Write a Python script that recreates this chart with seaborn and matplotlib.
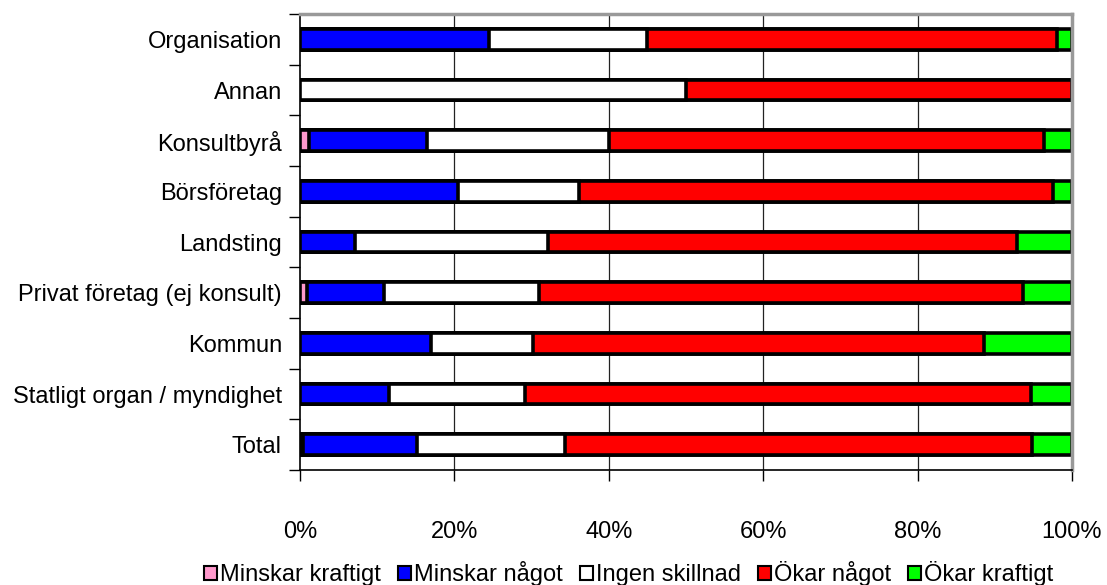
import numpy as np
import pandas as pd
import matplotlib
matplotlib.use("Agg")
import matplotlib.pyplot as plt
import seaborn as sns
from matplotlib.patches import Patch
from matplotlib.ticker import MultipleLocator, FixedLocator, PercentFormatter

categories = ["Organisation", "Annan", "Konsultbyrå", "Börsföretag", "Landsting",
              "Privat företag (ej konsult)", "Kommun",
              "Statligt organ / myndighet", "Total"]

series_names = ["Minskar kraftigt", "Minskar något", "Ingen skillnad",
                "Ökar något", "Ökar kraftigt"]

minskar_kraftigt = [0.0, 0.0, 1.2, 0.0, 0.0, 0.9, 0.0, 0.0, 0.4]
minskar_nagot = [24.5, 0.0, 15.3, 20.5, 7.1, 10.0, 17.0, 11.5, 14.7]
ingen_skillnad = [20.4, 50.0, 23.5, 15.6, 25.0, 20.0, 13.2, 17.7, 19.2]
okar_nagot = [53.1, 50.0, 56.4, 61.4, 60.8, 62.7, 58.4, 65.5, 60.5]
okar_kraftigt = [2.0, 0.0, 3.6, 2.5, 7.1, 6.4, 11.4, 5.3, 5.2]

colors = ["#FF99CC", "#0000FF", "#FFFFFF", "#FF0000", "#00FF00"]

sns.set_theme(style="white")
plt.rcParams["font.family"] = ["Liberation Sans", "DejaVu Sans"]
plt.rcParams["text.color"] = "black"
plt.rcParams["xtick.color"] = "black"
plt.rcParams["ytick.color"] = "black"

df = pd.DataFrame({
    "kategori": categories,
    series_names[0]: minskar_kraftigt,
    series_names[1]: minskar_nagot,
    series_names[2]: ingen_skillnad,
    series_names[3]: okar_nagot,
    series_names[4]: okar_kraftigt,
})
cum = df[series_names].cumsum(axis=1)

fig = plt.figure(figsize=(11.07, 5.85), dpi=100)
ax = fig.add_axes([300 / 1107, 1 - 470 / 585, 772 / 1107, 456 / 585])

# vertical gridlines behind bars
for v in [20, 40, 60, 80]:
    ax.axvline(v, color="#222222", lw=0.9, zorder=0)

# stacked segments: draw cumulative totals from the outermost inward
for name, col in reversed(list(zip(series_names, colors))):
    sub = pd.DataFrame({"kategori": categories, "varde": cum[name].values})
    mask = df[name].values > 0
    sns.barplot(data=sub[mask | (name == series_names[-1])], x="varde", y="kategori",
                order=categories, orient="h", color=col, saturation=1,
                edgecolor="black", linewidth=2.6, width=0.41, ax=ax, zorder=2)

ax.set_xlim(0, 100)
ax.set_ylim(len(categories) - 0.5, -0.5)
ax.set_xlabel("")
ax.set_ylabel("")

ax.xaxis.set_major_locator(MultipleLocator(20))
ax.xaxis.set_major_formatter(PercentFormatter(decimals=0))
ax.tick_params(axis="x", which="major", direction="out", length=8, width=1,
               color="black", pad=29, labelsize=17, labelcolor="black", bottom=True)

ax.yaxis.set_minor_locator(FixedLocator(np.arange(-0.5, len(categories), 1.0)))
ax.tick_params(axis="y", which="major", length=0, pad=13, labelsize=17,
               labelcolor="black")
ax.tick_params(axis="y", which="minor", direction="out", length=8, width=1,
               color="black", left=True)

for side in ["left", "bottom"]:
    ax.spines[side].set_color("black")
    ax.spines[side].set_linewidth(1.2)
for side in ["top", "right"]:
    ax.spines[side].set_color("#999999")
    ax.spines[side].set_linewidth(2.5)

handles = [Patch(facecolor=c, edgecolor="black", linewidth=1.5, label=n)
           for n, c in zip(series_names, colors)]
leg = fig.legend(handles=handles, loc="lower center", bbox_to_anchor=(0.568, -0.03),
                 ncol=5, frameon=False, fontsize=17, handlelength=0.55,
                 handleheight=0.55, handletextpad=0.15, columnspacing=0.7,
                 borderpad=0.2)
for t in leg.get_texts():
    t.set_color("black")

fig.savefig("out.png", dpi=100)
